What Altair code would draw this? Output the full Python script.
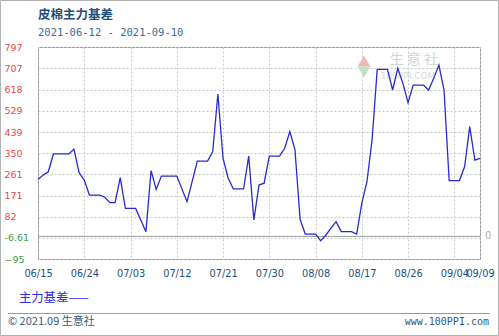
import altair as alt
import pandas as pd

dates = ["2021-06-15","2021-06-16","2021-06-17","2021-06-18","2021-06-21","2021-06-22","2021-06-23",
         "2021-06-24","2021-06-25","2021-06-27","2021-06-28","2021-06-29","2021-06-30","2021-07-01",
         "2021-07-02","2021-07-04","2021-07-06","2021-07-07","2021-07-08","2021-07-09","2021-07-12",
         "2021-07-14","2021-07-16","2021-07-18","2021-07-19","2021-07-20","2021-07-21","2021-07-22",
         "2021-07-23","2021-07-25","2021-07-26","2021-07-27","2021-07-28","2021-07-29","2021-07-30",
         "2021-08-01","2021-08-02","2021-08-03","2021-08-04","2021-08-05","2021-08-06","2021-08-08",
         "2021-08-09","2021-08-10","2021-08-11","2021-08-12","2021-08-13","2021-08-15","2021-08-16",
         "2021-08-17","2021-08-18","2021-08-19","2021-08-20","2021-08-22","2021-08-23","2021-08-24",
         "2021-08-25","2021-08-26","2021-08-27","2021-08-29","2021-08-30","2021-08-31","2021-09-01",
         "2021-09-02","2021-09-03","2021-09-05","2021-09-06","2021-09-07","2021-09-08","2021-09-09"]
values = [240,258,272,347,347,367,268,
          237,174,174,165,142,142,247,
          118,118,20,277,198,254,254,
          146,317,317,357,599,329,245,
          200,200,338,69,216,224,338,
          338,371,441,364,72,10,10,
          -18,5,35,62,20,20,10,
          139,230,406,703,703,616,707,
          644,563,637,637,616,665,721,
          616,235,235,293,462,321,328]

y_ticks = [-95, -6.61, 82, 171, 261, 350, 439, 529, 618, 707, 797]
x_ticks = [(6,15),(6,24),(7,3),(7,12),(7,21),(7,30),(8,8),(8,17),(8,26),(9,4),(9,9)]

title_text = "皮棉主力基差"
subtitle_text = "2021-06-12 - 2021-09-10"
legend_text = "主力基差——"
footer_left = "© 2021.09 生意社"
footer_right = "www.100PPI.com"

df = pd.DataFrame({"date": dates, "value": values})
one = pd.DataFrame({"k": [0]})

W, H = 442, 212
PL, PT = 38, 47

x_scale = alt.Scale(type="utc",
                    domain=[alt.DateTime(year=2021, month=6, date=15, utc=True),
                            alt.DateTime(year=2021, month=9, date=9, utc=True)])
y_scale = alt.Scale(domain=[-95, 797], nice=False, zero=False)

line = alt.Chart(df).mark_line(color="#2a2ad2", strokeWidth=1.3).encode(
    x=alt.X("date:T", scale=x_scale, title=None,
            axis=alt.Axis(values=[alt.DateTime(year=2021, month=m, date=d, utc=True) for m, d in x_ticks],
                          tickCount=len(x_ticks) + 2,
                          labelExpr="utcFormat(datum.value, '%m/%d')", labelColor="#1d4f80",
                          labelFont="DejaVu Sans", labelFontSize=9.8, labelPadding=9,
                          ticks=False, tickSize=0, domain=False, grid=True,
                          gridColor="#c8c8c8", gridDash=[2, 2], labelOverlap=False,
                          labelFlush=False)),
    y=alt.Y("value:Q", scale=y_scale, title=None,
            axis=alt.Axis(values=y_ticks, tickCount=len(y_ticks) + 2,
                          labelAlign="left", labelPadding=34, tickSize=0,
                          ticks=False, domain=False, grid=True, gridColor="#c8c8c8",
                          gridDash=[2, 2], labelFont="DejaVu Sans", labelFontSize=9.5,
                          labelBaseline="middle", labelOverlap=False,
                          labelColor=alt.condition("datum.value < 0", alt.value("#3c9a3c"),
                                                   alt.value("#e04a4a")),
                          labelExpr="datum.value == -6.61 ? '-6.61' : format(datum.value, 'd')")),
)

zero_rule = alt.Chart(one).mark_rule(color="#9a9a9a", strokeWidth=1).encode(
    y=alt.datum(0), x=alt.value(0), x2=alt.value(W))
zero_lbl = alt.Chart(one).mark_text(text="0", color="#b0b0b0", font="DejaVu Sans", fontSize=10,
                                    align="left", baseline="middle").encode(
    y=alt.datum(0), x=alt.value(W + 5))

def txt(t, x, y, **kw):
    return alt.Chart(one).mark_text(text=t, baseline="middle", **kw).encode(
        x=alt.value(x), y=alt.value(y))

title = txt(title_text, 0, 15 - PT, align="left", font="Noto Sans CJK SC", fontSize=12.5,
            fontWeight="bold", color="#1f4f7c")
subtitle = txt(subtitle_text, 0, 33 - PT, align="left", font="DejaVu Sans Mono", fontSize=10.5,
               color="#3d6a96")
legend = txt(legend_text, 19 - PL, 298 - PT, align="left", font="Noto Sans CJK SC", fontSize=12.3,
             color="#2a2ae0")
f_left = txt(footer_left, 8 - PL, 322 - PT, align="left", font="Noto Sans CJK SC", fontSize=11,
             color="#3a5878")
f_right = txt(footer_right, 489 - PL, 322 - PT, align="right", font="DejaVu Sans Mono", fontSize=10,
              color="#3a5878")
wm1 = txt("生 意 社", 414 - PL, 60 - PT, align="center", font="Noto Sans CJK SC", fontSize=14,
          color="#cfd6dc")
wm2 = txt("100PPI.COM", 408 - PL, 76 - PT, align="center", font="DejaVu Sans", fontSize=9,
          color="#d6dbe0")
tri_up = alt.Chart(one).mark_point(shape="triangle-up", filled=True, color="#f2b6b6", size=160,
                                   opacity=1).encode(x=alt.value(364 - PL), y=alt.value(61 - PT))
tri_dn = alt.Chart(one).mark_point(shape="triangle-down", filled=True, color="#bfe3bf", size=160,
                                   opacity=1).encode(x=alt.value(364 - PL), y=alt.value(72 - PT))

sep = alt.Chart(one).mark_rule(color="#9a9a9a", strokeWidth=1).encode(
    x=alt.value(8 - PL), x2=alt.value(490 - PL), y=alt.value(313.5 - PT))
border = alt.Chart(one).mark_rect(fillOpacity=0, stroke="#b4b4b4", strokeWidth=1).encode(
    x=alt.value(0.5 - PL), x2=alt.value(498.5 - PL), y=alt.value(0.5 - PT), y2=alt.value(335.5 - PT))

chart = alt.layer(tri_up, tri_dn, wm1, wm2, zero_rule, line, zero_lbl, title, subtitle, legend,
                  sep, f_left, f_right, border).properties(
    width=W, height=H,
    autosize=alt.AutoSizeParams(type="none"),
    padding={"left": PL, "top": PT, "right": 499 - PL - W, "bottom": 336 - PT - H},
    background="white",
).configure_view(stroke="#8c8c8c", strokeWidth=1)

chart.save("out.html", embed_options={"renderer": "svg", "actions": False})
